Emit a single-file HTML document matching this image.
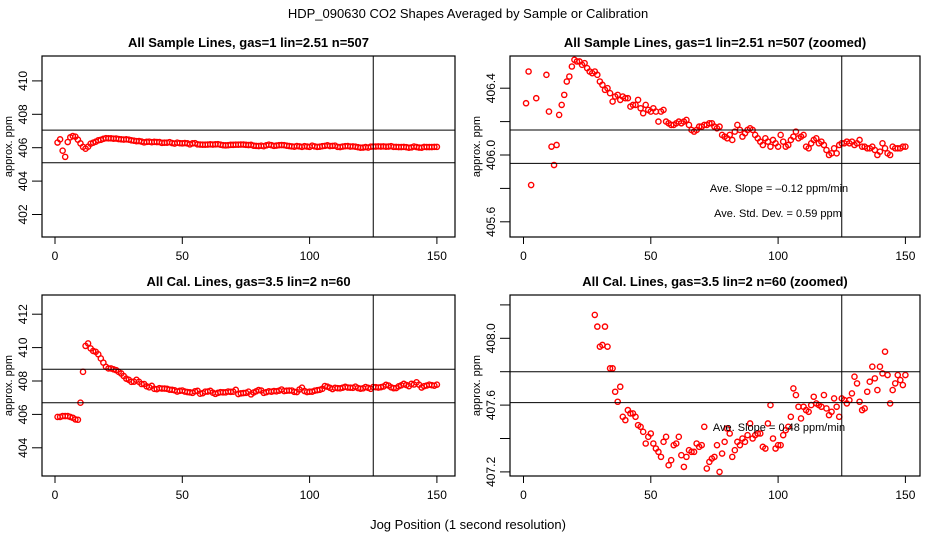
<!DOCTYPE html>
<html><head><meta charset="utf-8"><style>
html,body{margin:0;padding:0;background:#fff;width:936px;height:540px;overflow:hidden;}
svg{display:block;font-family:"Liberation Sans",sans-serif;overflow:hidden;}
</style></head><body>
<svg id="fig" width="936" height="540" viewBox="0 0 936 540" xmlns="http://www.w3.org/2000/svg">
<rect width="936" height="540" fill="#fff"/>
<text x="468" y="18" text-anchor="middle" font-size="13">HDP_090630  CO2 Shapes Averaged by Sample or Calibration</text>
<text x="468" y="529" text-anchor="middle" font-size="13">Jog Position (1 second resolution)</text>
</svg>
<script>
const sampleValues=[406.31,406.5,405.82,405.45,406.34,406.62,406.7,406.66,406.48,406.26,406.05,405.94,406.06,406.24,406.3,406.36,406.44,406.47,406.53,406.57,406.56,406.56,406.54,406.55,406.52,406.5,406.49,406.5,406.48,406.44,406.42,406.39,406.4,406.37,406.32,406.35,406.36,406.33,406.35,406.34,406.34,406.29,406.3,406.3,406.33,406.28,406.25,406.3,406.27,406.26,406.28,406.26,406.2,406.26,406.27,406.2,406.19,406.18,406.18,406.19,406.2,406.19,406.2,406.21,406.18,406.15,406.14,406.15,406.17,406.17,406.18,406.18,406.19,406.19,406.17,406.16,406.17,406.12,406.11,406.1,406.12,406.09,406.14,406.18,406.15,406.11,406.13,406.15,406.16,406.15,406.12,406.1,406.08,406.06,406.1,406.08,406.05,406.09,406.07,406.05,406.12,406.08,406.05,406.06,406.09,406.11,406.14,406.1,406.11,406.12,406.05,406.04,406.07,406.09,406.1,406.07,406.08,406.06,406.03,406.0,406.01,406.04,406.01,406.06,406.07,406.07,406.08,406.07,406.08,406.06,406.07,406.09,406.05,406.05,406.04,406.04,406.05,406.03,406.0,406.02,406.07,406.04,406.01,406.0,406.05,406.04,406.04,406.04,406.05,406.05];
const calValues=[405.85,405.85,405.9,405.9,405.9,405.85,405.8,405.7,405.68,406.7,408.55,410.1,410.25,409.95,409.8,409.75,409.6,409.35,409.1,408.85,408.75,408.75,408.7,408.65,408.55,408.45,408.3,408.14,408.07,407.95,407.96,408.07,407.95,407.82,407.82,407.68,407.62,407.71,407.53,407.51,407.57,407.55,407.55,407.53,407.48,407.47,407.44,407.37,407.41,407.43,407.37,407.34,407.32,407.29,407.38,407.41,407.24,407.27,407.36,407.37,407.41,407.3,407.23,407.29,407.33,407.32,407.32,407.37,407.35,407.36,407.47,407.22,407.26,407.28,407.29,407.36,407.2,407.31,407.38,407.46,407.43,407.29,407.33,407.38,407.36,407.4,407.38,407.42,407.49,407.4,407.42,407.43,407.43,407.35,407.34,407.49,407.6,407.4,407.34,407.36,407.36,407.42,407.45,407.47,407.53,407.7,407.66,407.59,407.52,407.59,407.57,407.56,407.6,407.65,407.61,407.6,407.59,407.66,407.58,407.54,407.56,407.64,407.59,407.53,407.64,407.63,407.61,407.63,407.67,407.77,407.73,407.62,407.57,407.58,407.68,407.74,407.83,407.76,407.69,407.83,407.79,407.92,407.78,407.61,407.69,407.73,407.78,407.75,407.72,407.78];
const xTicks=[0,50,100,150];
const p1Ticks=[402,404,406,408,410];
const p2Ticks=[405.6,405.8,406.0,406.2,406.4];
const p2Labels=["405.6","","406.0","","406.4"];
const p3Ticks=[404,406,408,410,412];
const p4Ticks=[407.2,407.4,407.6,407.8,408.0,408.2];
const p4Labels=["407.2","","407.6","","408.0",""];
const p1Lines=[407.05,405.1], p2Lines=[406.15,405.95], p3Lines=[408.7,406.7], p4Lines=[407.8,407.615];
const vLineX=125;

const NS="http://www.w3.org/2000/svg";
const svg=document.getElementById('fig');
function mk(tag,attrs,parent){const e=document.createElementNS(NS,tag);for(const k in attrs)e.setAttribute(k,attrs[k]);(parent||svg).appendChild(e);return e;}

const panels=[
 {id:'sample',title:'All Sample Lines, gas=1 lin=2.51 n=507',box:[42,56,455,237],x0:55,ref:406,refY:147.7,ppu:16.7,ticks:p1Ticks,labels:p1Ticks.map(String),data:sampleValues,lines:p1Lines},
 {id:'sample-zoomed',title:'All Sample Lines, gas=1 lin=2.51 n=507 (zoomed)',box:[510,56,920,237],x0:523.5,ref:406,refY:155,ppu:167,ticks:p2Ticks,labels:p2Labels,data:sampleValues,lines:p2Lines,
  notes:[['Ave. Slope =  \u20130.12  ppm/min',779,192],['Ave. Std. Dev. =  0.59  ppm',778,217]]},
 {id:'cal',title:'All Cal. Lines, gas=3.5 lin=2 n=60',box:[42,295,455,476],x0:55,ref:408,refY:381,ppu:16.7,ticks:p3Ticks,labels:p3Ticks.map(String),data:calValues,lines:p3Lines},
 {id:'cal-zoomed',title:'All Cal. Lines, gas=3.5 lin=2 n=60 (zoomed)',box:[510,295,920,476],x0:523.5,ref:408,refY:338.3,ppu:167,ticks:p4Ticks,labels:p4Labels,data:calValues,lines:p4Lines,
  notes:[['Ave. Slope =  0.48  ppm/min',779,431]]}
];
const xppu=2.546;
panels.forEach((p,pi)=>{
 const [l,t,r,b]=p.box;
 const xs=v=>p.x0+v*xppu;
 const ys=v=>p.refY-(v-p.ref)*p.ppu;
 const g=mk('g',{});
 
 
 const cp=mk('clipPath',{id:'clip'+pi},g);
 mk('rect',{x:l,y:t,width:r-l,height:b-t},cp);
 const tt=mk('text',{x:(l+r)/2,y:t-9,'text-anchor':'middle','font-size':'13','font-weight':'bold'},g);
 tt.textContent=p.title;
 
 
 const yl=mk('text',{transform:`translate(${l-30},${(t+b)/2}) rotate(-90)`,'text-anchor':'middle','font-size':'11'},g);
 yl.textContent='approx. ppm';
 
 
 p.ticks.forEach((v,i)=>{
  const y=ys(v);
  mk('line',{x1:l-10,x2:l,y1:y,y2:y,stroke:'#000','stroke-width':1},g);
  if(p.labels[i]){
   const tx=mk('text',{transform:`translate(${l-15},${y}) rotate(-90)`,'text-anchor':'middle','font-size':'12'},g);
   tx.textContent=p.labels[i];
   
   
  }
 });
 xTicks.forEach(v=>{
  const x=xs(v);
  mk('line',{x1:x,x2:x,y1:b,y2:b+7,stroke:'#000','stroke-width':1},g);
  const tx=mk('text',{x:x,y:b+23,'text-anchor':'middle','font-size':'12'},g);
  tx.textContent=String(v);
  
  
 });
 const pts=mk('g',{'clip-path':`url(#clip${pi})`},g);
 
 
 p.data.forEach((v,i)=>{
  const c=mk('circle',{cx:xs(i+1),cy:ys(v),r:2.6,fill:'none',stroke:'#f00','stroke-width':1.4},pts);
  
  
 });
 p.lines.forEach(v=>{
  const ln=mk('line',{x1:l,x2:r,y1:ys(v),y2:ys(v),stroke:'#000','stroke-width':1},g);
  
  
 });
 const vl=mk('line',{x1:xs(vLineX),x2:xs(vLineX),y1:t,y2:b,stroke:'#000','stroke-width':1},g);
 
 
 (p.notes||[]).forEach(n=>{
  const tx=mk('text',{x:n[1],y:n[2],'text-anchor':'middle','font-size':'11'},g);
  tx.textContent=n[0];
  
  
 });
 const bx=mk('rect',{x:l,y:t,width:r-l,height:b-t,fill:'none',stroke:'#000','stroke-width':1.2},g);
 
 
});
</script>
</body></html>
